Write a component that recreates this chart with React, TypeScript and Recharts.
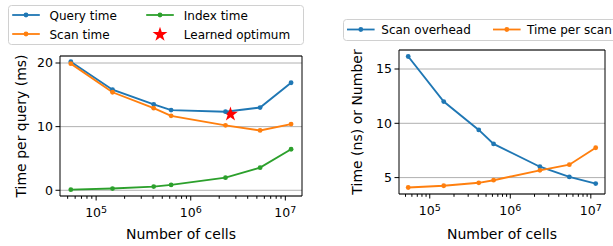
import {
  CartesianGrid,
  ComposedChart,
  Legend,
  Line,
  ReferenceArea,
  Scatter,
  XAxis,
  YAxis,
} from 'recharts';

const CELLS = [54000, 149000, 406000, 620000, 2330000, 5410000, 11500000];
const QUERY_TIME = [20.2, 15.8, 13.5, 12.6, 12.35, 13.0, 16.9];
const SCAN_TIME = [19.9, 15.4, 12.9, 11.7, 10.2, 9.4, 10.4];
const INDEX_TIME = [0.1, 0.27, 0.58, 0.84, 1.98, 3.55, 6.45];
const SCAN_OVERHEAD = [16.15, 12.0, 9.39, 8.1, 6.0, 5.06, 4.45];
const TIME_PER_SCAN = [4.09, 4.25, 4.52, 4.76, 5.67, 6.19, 7.75];
const OPTIMUM = [{ cells: 2630000, opt: 11.95 }];

const X_DOMAIN: [number, number] = [41500, 15000000];
const X_MAJOR = [1e5, 1e6, 1e7];
const X_MINOR = [5e4, 6e4, 7e4, 8e4, 9e4, 2e5, 3e5, 4e5, 5e5, 6e5, 7e5, 8e5, 9e5, 2e6, 3e6, 4e6, 5e6, 6e6, 7e6, 8e6, 9e6];
const LEFT_Y_TICKS = [0, 10, 20];
const RIGHT_Y_TICKS = [5, 10, 15];

const BLUE = '#1f77b4';
const ORANGE = '#ff7f0e';
const GREEN = '#2ca02c';
const FONT = 'DejaVu Sans, sans-serif';

const leftRows = CELLS.map((cells, i) => ({
  cells,
  query: QUERY_TIME[i],
  scan: SCAN_TIME[i],
  index: INDEX_TIME[i],
}));

const rightRows = CELLS.map((cells, i) => ({
  cells,
  overhead: SCAN_OVERHEAD[i],
  perScan: TIME_PER_SCAN[i],
}));

const X_TICKS = [...X_MAJOR, ...X_MINOR].sort((a, b) => a - b);

function starPoints(cx: number, cy: number, R: number, r: number) {
  const pts: string[] = [];
  for (let i = 0; i < 10; i++) {
    const rad = i % 2 === 0 ? R : r;
    const a = -Math.PI / 2 + (i * Math.PI) / 5;
    pts.push(`${cx + rad * Math.cos(a)},${cy + rad * Math.sin(a)}`);
  }
  return pts.join(' ');
}

function LogTick(props: any) {
  const { x, y, payload } = props;
  const v = payload.value;
  const exp = Math.round(Math.log10(v));
  const major = Math.abs(Math.log10(v) - exp) < 1e-9;
  return (
    <g>
      <line x1={x} x2={x} y1={y} y2={y + (major ? 4.5 : 2.8)} stroke="#000" strokeWidth={1} />
      {major && (
        <text x={x} y={y + 21} textAnchor="middle" fill="#000" fontSize={12.5} fontFamily={FONT}>
          <tspan>10</tspan>
          <tspan dy={-4.5} fontSize={9.5}>
            {exp}
          </tspan>
        </text>
      )}
    </g>
  );
}

function Handle({ x, y, color }: { x: number; y: number; color: string }) {
  return (
    <g>
      <line x1={x} x2={x + 27.6} y1={y} y2={y} stroke={color} strokeWidth={1.8} />
      <circle cx={x + 13.8} cy={y} r={2.4} fill={color} />
    </g>
  );
}

const legendText = { fontSize: 12, fontFamily: FONT, fill: '#000' };

function LeftLegend() {
  return (
    <svg width={296} height={40} style={{ display: 'block' }}>
      <rect x={0.5} y={0.5} width={295} height={39} rx={3} fill="rgba(255,255,255,0.8)" stroke="#d0d0d0" />
      <Handle x={4.2} y={10} color={BLUE} />
      <text x={41.5} y={14.5} {...legendText}>Query time</text>
      <Handle x={4.2} y={29} color={ORANGE} />
      <text x={41.5} y={33.5} {...legendText}>Scan time</text>
      <Handle x={138.2} y={10} color={GREEN} />
      <text x={175.8} y={14.5} {...legendText}>Index time</text>
      <polygon points={starPoints(152, 29.5, 7.8, 3)} fill="red" />
      <text x={175.8} y={33.5} {...legendText}>Learned optimum</text>
    </svg>
  );
}

function RightLegend() {
  return (
    <svg width={300} height={22} style={{ display: 'block' }}>
      <rect x={0.5} y={0.5} width={299} height={21} rx={3} fill="rgba(255,255,255,0.8)" stroke="#d0d0d0" />
      <Handle x={4} y={10.5} color={BLUE} />
      <text x={38.3} y={15} {...legendText}>Scan overhead</text>
      <Handle x={150} y={10.5} color={ORANGE} />
      <text x={184} y={15} {...legendText}>Time per scan</text>
    </svg>
  );
}

const dotStyle = (c: string) => ({ r: 2.4, fill: c, stroke: c, strokeWidth: 0 });

export default function App() {
  return (
    <div
      style={{
        position: 'absolute',
        left: 0,
        top: 0,
        width: 613,
        height: 246,
        overflow: 'hidden',
        background: '#fff',
        fontFamily: FONT,
      }}
    >
      <div style={{ position: 'absolute', left: 0, top: 0 }}>
        <ComposedChart width={310} height={246} data={leftRows} margin={{ top: 56, right: 8, bottom: 0, left: 0 }}>
          <CartesianGrid vertical={false} stroke="#b0b0b0" strokeWidth={1} />
          <XAxis
            dataKey="cells"
            type="number"
            scale="log"
            domain={X_DOMAIN}
            allowDataOverflow
            ticks={X_TICKS}
            interval={0}
            tickLine={false}
            axisLine={false}
            tickSize={0}
            tickMargin={0}
            height={50}
            tick={<LogTick />}
            label={{ value: 'Number of cells', position: 'center', dy: 13, fill: '#000', fontSize: 14 }}
          />
          <YAxis
            type="number"
            domain={[-0.9, 21.1]}
            allowDataOverflow
            ticks={LEFT_Y_TICKS}
            width={60}
            axisLine={false}
            tickLine={{ stroke: '#000' }}
            tickSize={4.5}
            tickMargin={2.5}
            tick={{ fill: '#000', fontSize: 12.5 }}
            label={{ value: 'Time per query (ms)', angle: -90, position: 'center', dx: -9.3, fill: '#000', fontSize: 14 }}
          />
          <ReferenceArea x1={X_DOMAIN[0]} x2={X_DOMAIN[1]} y1={-0.9} y2={21.1} fill="none" stroke="#000" strokeWidth={1} ifOverflow="visible" />
          <Line type="linear" dataKey="query" stroke={BLUE} strokeWidth={1.9} dot={dotStyle(BLUE)} isAnimationActive={false} />
          <Line type="linear" dataKey="scan" stroke={ORANGE} strokeWidth={1.9} dot={dotStyle(ORANGE)} isAnimationActive={false} />
          <Line type="linear" dataKey="index" stroke={GREEN} strokeWidth={1.9} dot={dotStyle(GREEN)} isAnimationActive={false} />
          <Scatter
            data={OPTIMUM}
            dataKey="opt"
            isAnimationActive={false}
            shape={(p: any) => <polygon points={starPoints(p.cx, p.cy, 7.8, 3)} fill="red" />}
          />
          <Legend
            layout="horizontal"
            verticalAlign="middle"
            align="center"
            content={() => <LeftLegend />}
            wrapperStyle={{ left: 7.5, top: 5, width: 296, height: 40 }}
          />
        </ComposedChart>
      </div>
      <div style={{ position: 'absolute', left: 310, top: 0 }}>
        <ComposedChart width={303} height={246} data={rightRows} margin={{ top: 50, right: 8, bottom: 0, left: 0 }}>
          <CartesianGrid vertical={false} stroke="#b0b0b0" strokeWidth={1} />
          <XAxis
            dataKey="cells"
            type="number"
            scale="log"
            domain={X_DOMAIN}
            allowDataOverflow
            ticks={X_TICKS}
            interval={0}
            tickLine={false}
            axisLine={false}
            tickSize={0}
            tickMargin={0}
            height={52}
            tick={<LogTick />}
            label={{ value: 'Number of cells', position: 'center', dy: 14, fill: '#000', fontSize: 14 }}
          />
          <YAxis
            type="number"
            domain={[3.49, 16.75]}
            allowDataOverflow
            ticks={RIGHT_Y_TICKS}
            width={89}
            axisLine={false}
            tickLine={{ stroke: '#000' }}
            tickSize={4.5}
            tickMargin={2.5}
            tick={{ fill: '#000', fontSize: 12.5 }}
            label={{ value: 'Time (ns) or Number', angle: -90, position: 'center', dx: 2.5, fill: '#000', fontSize: 14 }}
          />
          <ReferenceArea x1={X_DOMAIN[0]} x2={X_DOMAIN[1]} y1={3.49} y2={16.75} fill="none" stroke="#000" strokeWidth={1} ifOverflow="visible" />
          <Line type="linear" dataKey="overhead" stroke={BLUE} strokeWidth={1.9} dot={dotStyle(BLUE)} isAnimationActive={false} />
          <Line type="linear" dataKey="perScan" stroke={ORANGE} strokeWidth={1.9} dot={dotStyle(ORANGE)} isAnimationActive={false} />
          <Legend
            layout="horizontal"
            verticalAlign="middle"
            align="center"
            content={() => <RightLegend />}
            wrapperStyle={{ left: 32.7, top: 19, width: 300, height: 22 }}
          />
        </ComposedChart>
      </div>
    </div>
  );
}
